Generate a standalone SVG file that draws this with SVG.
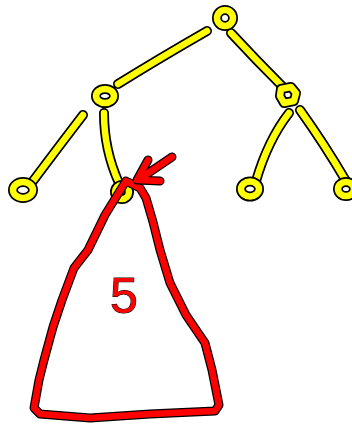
<svg xmlns="http://www.w3.org/2000/svg" xmlns:xlink="http://www.w3.org/1999/xlink" width="352" height="430" viewBox="0 0 352 430">
<style>
.o{stroke:#000;stroke-width:10;fill:none;stroke-linecap:round;stroke-linejoin:round}
.y{stroke:#ffff00;stroke-width:6.5;fill:none;stroke-linecap:round;stroke-linejoin:round}
.ro{stroke:#000;stroke-width:9;fill:none;stroke-linecap:round;stroke-linejoin:round}
.r{stroke:#ff0000;stroke-width:6.5;fill:none;stroke-linecap:round;stroke-linejoin:round}
.t{font-family:"Liberation Sans",Arial,sans-serif;font-size:50px;fill:#ff0000;stroke:#000;stroke-width:1;paint-order:stroke}
</style>
<defs>
<path id="e1" d="M207,31 Q160,58 118,84"/>
<path id="e2" d="M231,33 Q256,60 283,87"/>
<path id="e3" d="M83,115 Q60,145 33,181"/>
<path id="e4" d="M104,113 Q104,150 119,183"/>
<path id="e5" d="M289,113 Q268,140 256,181"/>
<path id="e6" d="M300,110 Q325,145 346,181"/>
<path id="ar" d="M172,157 L138,180 M148,160 L137,180 L160,181"/>
<path id="tri" d="M126,181 L105,215 L88,250 L74,268 L62,300 L53,327 L44,360 L39,380 L34,408 L40,414 L90,418 L150,414 L215,411 L219,405 L212,370 L205,343 L186,315 L170,283 L160,250 L153,222 L146,198 L140,188 L128,182"/>
</defs>
<g id="connectors">
<use xlink:href="#e1" class="o"/><use xlink:href="#e1" class="y"/>
<use xlink:href="#e2" class="o"/><use xlink:href="#e2" class="y"/>
<use xlink:href="#e3" class="o"/><use xlink:href="#e3" class="y"/>
<use xlink:href="#e4" class="o"/><use xlink:href="#e4" class="y"/>
<use xlink:href="#e5" class="o"/><use xlink:href="#e5" class="y"/>
<use xlink:href="#e6" class="o"/><use xlink:href="#e6" class="y"/>
</g>
<g id="root"><ellipse class="o" cx="225" cy="18" rx="8" ry="8"/><ellipse class="y" cx="225" cy="18" rx="8" ry="8"/></g>
<g id="n-left"><ellipse class="o" cx="105" cy="96" rx="9" ry="7"/><ellipse class="y" cx="105" cy="96" rx="9" ry="7"/></g>
<g id="n-right"><path class="o" d="M281,89 L291,87 L296,93 L294,101 L284,103 L280,96 Z"/><path class="y" d="M281,89 L291,87 L296,93 L294,101 L284,103 L280,96 Z"/></g>
<g id="n-ll"><ellipse class="o" cx="23" cy="190" rx="10" ry="8"/><ellipse class="y" cx="23" cy="190" rx="10" ry="8"/></g>
<g id="n-lr"><ellipse class="o" cx="122" cy="192" rx="7" ry="7"/><ellipse class="y" cx="122" cy="192" rx="7" ry="7"/></g>
<g id="n-rl"><ellipse class="o" cx="250" cy="189" rx="9" ry="7.5"/><ellipse class="y" cx="250" cy="189" rx="9" ry="7.5"/></g>
<g id="n-rr"><ellipse class="o" cx="346" cy="189" rx="8" ry="7"/><ellipse class="y" cx="346" cy="189" rx="8" ry="7"/></g>
<g id="subtree">
<use xlink:href="#tri" class="ro"/><use xlink:href="#tri" class="r"/>
<text class="t" x="124" y="313" text-anchor="middle">5</text>
</g>
<g id="pointer">
<use xlink:href="#ar" class="ro"/><use xlink:href="#ar" class="r"/>
</g>
</svg>
